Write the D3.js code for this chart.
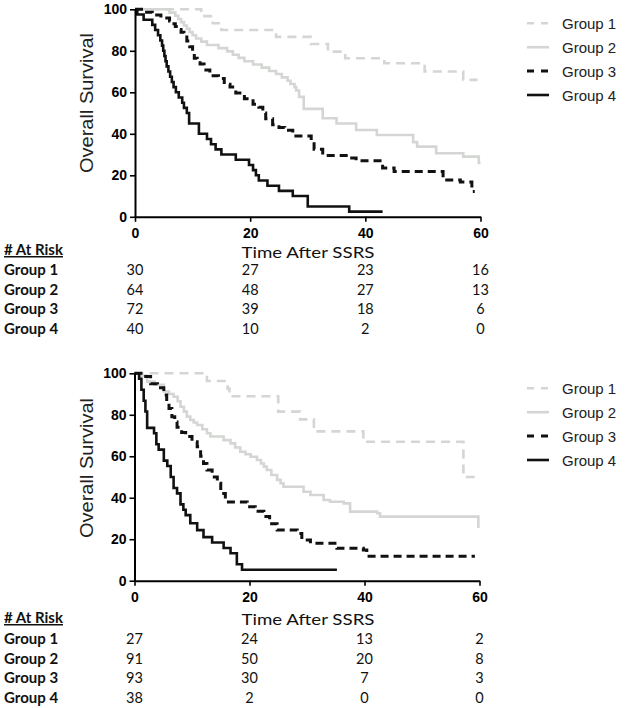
<!DOCTYPE html>
<html>
<head>
<meta charset="utf-8">
<script src="https://cdn.jsdelivr.net/npm/d3@7"></script>
<style>
  html, body { margin: 0; padding: 0; background: #fff; }
  svg { display: block; }
</style>
</head>
<body>
<svg id="chart" width="626" height="708"></svg>
<script>
// ---------- DATA ----------
const groupNames = ["Group 1", "Group 2", "Group 3", "Group 4"];
const xTickValues = [0, 20, 40, 60];
const yTickValues = [0, 20, 40, 60, 80, 100];
const riskTimes = [0, 20, 40, 60];

// Panel A (top) Kaplan-Meier curves: times (months) and survival (%)
const topG1Time = [0, 11.5, 13.5, 15, 24.5, 30.5, 33.5, 36.5, 43.3, 50.3, 57, 59.5];
const topG1Surv = [100, 96.7, 93.3, 90, 86.7, 83.3, 79.6, 76.4, 74, 70, 66, 66];
const topG2Time = [0, 6, 7, 7.5, 8, 8.5, 9, 9.5, 10, 10.6, 11.5, 12.5, 14.5, 16, 17, 18, 19, 20.5, 22, 23.3, 24.5, 25.5, 26.5, 27, 27.7, 28, 28.5, 29.3, 32.6, 35, 38.4, 42, 48.3, 49, 52.3, 57, 59.7, 60];
const topG2Surv = [100, 98.4, 96.9, 95.3, 93.8, 92.2, 90.6, 89, 87.5, 85.9, 84.4, 82.8, 81.3, 79.7, 78.1, 76.6, 75, 73.4, 71.9, 70.3, 68.8, 67.2, 65.6, 64, 62.5, 60.9, 57.8, 52, 47.5, 45, 41.8, 39.4, 36, 33.8, 30.6, 29, 26, 26];
const topG3Time = [0, 1.5, 3, 4.5, 6, 6.5, 7, 7.5, 8, 8.5, 9, 9.5, 10, 10.3, 10.8, 11.3, 12, 13, 14.5, 15.5, 16.5, 17.5, 19, 20.5, 21.5, 22.2, 22.7, 23.9, 25, 26, 27.4, 30.6, 31.1, 32.6, 37, 38.4, 43, 45, 53.5, 56.5, 58.5, 59];
const topG3Surv = [100, 98.6, 97.2, 95.8, 94.4, 93, 91.7, 90.3, 88.9, 87.5, 84.7, 81.9, 79.2, 76.4, 75, 73.6, 70.8, 68, 66.7, 63.9, 62.5, 59.7, 56.9, 54.2, 52.8, 50, 47.2, 44.4, 43, 41.7, 39, 36, 32.5, 29.5, 28.3, 27, 23.5, 21.8, 17.7, 16.8, 12.2, 12.2];
const topG4Time = [0, 0.4, 1.5, 3, 3.5, 4, 4.4, 4.7, 4.9, 5.1, 5.3, 5.5, 5.8, 6.1, 6.4, 6.7, 7.1, 7.6, 8.2, 8.5, 9, 9.4, 11.1, 12.5, 13.2, 14, 15, 17.5, 19.8, 20.5, 21, 21.5, 23, 25, 27.4, 30, 37.2, 43];
const topG4Surv = [100, 97.5, 95, 92.5, 90, 87.5, 85, 82.5, 80, 77.5, 75, 72.5, 70, 67.5, 65, 62.5, 60, 57.5, 55, 52.5, 50, 45, 40, 37.5, 35, 32.5, 30, 27.5, 25, 22.5, 20, 17.5, 15, 12.5, 10, 5, 2.5, 2.5];

// Panel B (bottom) Kaplan-Meier curves
const botG1Time = [0, 12.6, 16.2, 16.5, 25, 28.8, 31.2, 39.8, 57.2, 59.2];
const botG1Surv = [100, 96.3, 92.6, 88.9, 81.5, 77.8, 72, 67, 50, 50];
const botG2Time = [0, 1, 2.2, 3.5, 5.1, 6, 6.8, 7.5, 8, 8.6, 9.1, 9.7, 10.3, 10.9, 11.8, 12.6, 13.2, 15.5, 16.7, 17.5, 18.4, 19.3, 20.2, 21.3, 22, 22.5, 23, 23.8, 24.8, 25.4, 25.9, 29.4, 30.6, 32.9, 34, 36.4, 37.5, 42.2, 42.7, 59.8, 60];
const botG2Surv = [100, 98.9, 96, 94.5, 91.2, 90, 88.7, 86.5, 83.9, 81.5, 79.1, 77.5, 76.3, 75.1, 73, 71.1, 69.5, 67.8, 66.2, 64.2, 62.2, 61, 59.8, 58.2, 56.5, 55, 53.4, 51, 48.6, 47, 45.3, 42.9, 41.3, 38.9, 38.1, 37.3, 33.3, 32.5, 30.9, 26, 26];
const botG3Time = [0, 1.6, 2.8, 4, 5.1, 5.6, 6, 6.5, 7, 7.4, 8.2, 8.9, 10, 10.9, 11.5, 12, 12.6, 13.5, 14.4, 15, 15.8, 19.6, 21, 22.5, 23.5, 24.8, 28.3, 29.1, 30.6, 35.2, 39.8, 40.4, 59.2];
const botG3Surv = [100, 98.4, 95, 93, 89.5, 86, 83, 79, 76.5, 74, 71.5, 69.5, 67, 64.6, 60, 56.5, 53.4, 50, 47, 42, 38, 35.7, 33.5, 31, 27.5, 24.4, 22.8, 19.6, 18, 15.6, 14.8, 11.8, 11.8];
const botG4Time = [0, 0.8, 1.2, 1.6, 1.9, 2.2, 3.4, 3.8, 4.2, 5.1, 5.7, 6.3, 6.8, 7.4, 8, 8.5, 8.9, 9.7, 10.9, 12, 13.5, 15.5, 16.7, 17.8, 18.7, 35.2];
const botG4Surv = [100, 97.4, 92.1, 86.8, 81.6, 73.7, 71.1, 65.8, 63.2, 57.9, 55.3, 50, 44.7, 42.1, 36.8, 34.2, 31.6, 27.7, 24.4, 21, 18.4, 15.8, 13.2, 7.9, 5.3, 5.3];

// Numbers at risk
const topRiskG1 = [30, 27, 23, 16];
const topRiskG2 = [64, 48, 27, 13];
const topRiskG3 = [72, 39, 18, 6];
const topRiskG4 = [40, 10, 2, 0];
const botRiskG1 = [27, 24, 13, 2];
const botRiskG2 = [91, 50, 20, 8];
const botRiskG3 = [93, 30, 7, 3];
const botRiskG4 = [38, 2, 0, 0];

// ---------- STYLES ----------
const lightGray = "#d3d6d3";
const groupStyles = [
  { color: lightGray, width: 2.6, dash: "9,6", legendDash: "7,7" },
  { color: lightGray, width: 2.6, dash: null, legendDash: null },
  { color: "#111", width: 3, dash: "8,5", legendDash: "7,7" },
  { color: "#111", width: 2.6, dash: null, legendDash: null }
];

const zip = (t, s) => t.map((v, i) => ({ t: v, s: s[i] }));

const panels = [
  {
    curves: [zip(topG1Time, topG1Surv), zip(topG2Time, topG2Surv), zip(topG3Time, topG3Surv), zip(topG4Time, topG4Surv)],
    risk: [topRiskG1, topRiskG2, topRiskG3, topRiskG4],
    xRange: [135, 480.5], yRange: [216.8, 9.3],
    yLabelCenter: 103,
    legendY: 23.3,
    headerY: 255, timeLabelY: 258, rowY: [275, 295, 314, 334]
  },
  {
    curves: [zip(botG1Time, botG1Surv), zip(botG2Time, botG2Surv), zip(botG3Time, botG3Surv), zip(botG4Time, botG4Surv)],
    risk: [botRiskG1, botRiskG2, botRiskG3, botRiskG4],
    xRange: [134.5, 479.5], yRange: [580.7, 373.3],
    yLabelCenter: 468,
    legendY: 388.3,
    headerY: 623, timeLabelY: 625, rowY: [644, 664, 683, 703]
  }
];

const svg = d3.select("#chart");
const tickFont = "'Liberation Sans', Arial, sans-serif";
const tableFont = "Lato, 'Open Sans', sans-serif";

panels.forEach(p => {
  const x = d3.scaleLinear().domain([0, 60]).range(p.xRange);
  const y = d3.scaleLinear().domain([0, 100]).range(p.yRange);
  const g = svg.append("g");

  // curves
  const line = d3.line().x(d => x(d.t)).y(d => y(d.s)).curve(d3.curveStepAfter);
  [0, 1, 2, 3].forEach(i => {
    const st = groupStyles[i];
    g.append("path")
      .datum(p.curves[i])
      .attr("d", line)
      .attr("fill", "none")
      .attr("stroke", st.color)
      .attr("stroke-width", st.width)
      .attr("stroke-dasharray", st.dash)
      .attr("stroke-linejoin", "miter");
  });

  // axes
  const yAxis = d3.axisLeft(y).tickValues(yTickValues).tickSize(5).tickSizeOuter(0).tickPadding(3);
  const xAxis = d3.axisBottom(x).tickValues(xTickValues).tickSize(5).tickSizeOuter(0).tickPadding(6);
  const ya = g.append("g").attr("transform", `translate(${p.xRange[0]},0)`).call(yAxis);
  const xa = g.append("g").attr("transform", `translate(0,${p.yRange[0]})`).call(xAxis);
  [ya, xa].forEach(a => {
    a.selectAll("path.domain").attr("stroke", "#000").attr("stroke-width", 2);
    a.selectAll(".tick line").attr("stroke", "#000").attr("stroke-width", 1.6);
    a.selectAll(".tick text")
      .attr("fill", "#000")
      .style("font-family", tickFont)
      .style("font-size", "14px")
      .style("font-weight", "bold");
  });

  // y-axis label
  g.append("text")
    .attr("transform", `translate(93,${p.yLabelCenter}) rotate(-90)`)
    .attr("text-anchor", "middle")
    .attr("textLength", 140)
    .attr("lengthAdjust", "spacingAndGlyphs")
    .style("font-family", tickFont)
    .style("font-size", "17.5px")
    .attr("fill", "#222")
    .text("Overall Survival");

  // legend
  groupNames.forEach((name, i) => {
    const st = groupStyles[i];
    const ly = p.legendY + i * 23.9;
    g.append("line")
      .attr("x1", 527).attr("x2", 549)
      .attr("y1", ly).attr("y2", ly)
      .attr("stroke", st.color)
      .attr("stroke-width", st.width)
      .attr("stroke-dasharray", st.legendDash);
    g.append("text")
      .attr("x", 562).attr("y", ly + 5.5)
      .style("font-family", tickFont)
      .style("font-size", "15px")
      .attr("fill", "#222")
      .text(name);
  });

  // at-risk table
  g.append("text")
    .attr("x", 4).attr("y", p.headerY)
    .style("font-family", tableFont)
    .style("font-size", "15px")
    .style("font-weight", "bold")
    .style("text-decoration", "underline")
    .attr("fill", "#111")
    .text("# At Risk");
  g.append("text")
    .attr("x", 308).attr("y", p.timeLabelY)
    .attr("text-anchor", "middle")
    .attr("textLength", 133)
    .attr("lengthAdjust", "spacingAndGlyphs")
    .style("font-family", tableFont)
    .style("font-size", "14.5px")
    .attr("fill", "#111")
    .text("Time After SSRS");
  groupNames.forEach((name, i) => {
    g.append("text")
      .attr("x", 4).attr("y", p.rowY[i])
      .style("font-family", tableFont)
      .style("font-size", "15px")
      .style("font-weight", "bold")
      .attr("fill", "#111")
      .text(name);
    p.risk[i].forEach((v, j) => {
      g.append("text")
        .attr("x", x(riskTimes[j])).attr("y", p.rowY[i])
        .attr("text-anchor", "middle")
        .style("font-family", tableFont)
        .style("font-size", "14.5px")
        .attr("fill", "#111")
        .text(v);
    });
  });
});
</script>
</body>
</html>
